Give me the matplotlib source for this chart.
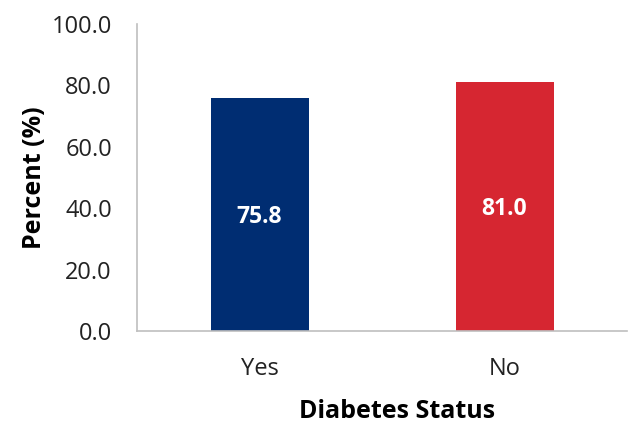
import matplotlib
matplotlib.use("Agg")
import matplotlib.pyplot as plt

# Data
categories = ["Yes", "No"]
values = [75.8, 81.0]
colors = ["#002D72", "#D62631"]
yticks = [0, 20, 40, 60, 80, 100]

plt.rcParams["font.family"] = ["Open Sans", "DejaVu Sans"]

fig = plt.figure(figsize=(6.29, 4.24), dpi=100)
ax = fig.add_axes([137 / 629, 1 - 331 / 424, 490 / 629, 307 / 424])

x = range(len(categories))
bars = ax.bar(x, values, width=0.4, color=colors)

# value labels in the middle of each bar
for b, v in zip(bars, values):
    ax.text(b.get_x() + b.get_width() / 2, v / 2 - 0.8, f"{v:.1f}",
            ha="center", va="center", color="white",
            fontsize=16.5, fontweight="bold")

ax.set_xlim(-0.5, 1.5)
ax.set_ylim(0, 100)
ax.set_yticks(yticks)
ax.set_yticklabels([f"{t:.1f}" for t in yticks])
ax.set_xticks(list(x))
ax.set_xticklabels(categories)
ax.tick_params(axis="both", length=0, labelsize=17, colors="#222222")
ax.tick_params(axis="y", pad=18)
ax.tick_params(axis="x", pad=19)

for s in ["top", "right"]:
    ax.spines[s].set_visible(False)
for s in ["left", "bottom"]:
    ax.spines[s].set_color("#BFBFBF")
    ax.spines[s].set_linewidth(1.2)

ax.set_ylabel("Percent (%)", fontsize=18, fontweight="bold", labelpad=3)
ax.set_xlabel("Diabetes Status", fontsize=18, fontweight="bold", labelpad=13)
ax.xaxis.label.set_x(0.53)

fig.savefig("out.png", dpi=100)
